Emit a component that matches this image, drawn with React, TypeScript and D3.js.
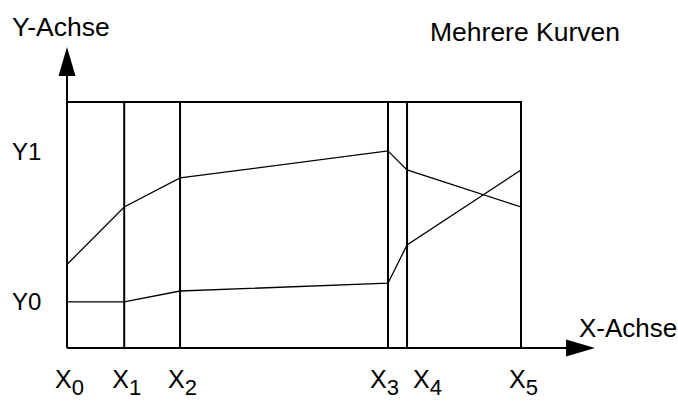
import * as d3 from 'd3';
import React, { useRef, useEffect } from 'react';

// x positions of the vertical lines X0..X5, normalised to the box width
const xStops = [0, 0.126, 0.249, 0.707, 0.749, 1.0];
const xLabels = ['0', '1', '2', '3', '4', '5'];
// y levels: Y0 = 0, Y1 = 1
const yTicks = [0, 1];
const yLabels = ['Y0', 'Y1'];
// the two curves, one value per vertical line
const upperCurve = [0.25, 0.633, 0.827, 1.007, 0.88, 0.633];
const lowerCurve = [0, 0, 0.073, 0.125, 0.38, 0.88];

const title = 'Mehrere Kurven';
const yAxisTitle = 'Y-Achse';
const xAxisTitle = 'X-Achse';

export default function App() {
  const svgRef = useRef<SVGSVGElement>(null);
  const width = 678;
  const height = 401;
  const boxLeft = 67;
  const boxRight = 521;
  const boxTop = 102;
  const boxBottom = 348;
  const font = '"Liberation Sans", Arial, Helvetica, sans-serif';

  useEffect(() => {
    if (!svgRef.current) return;
    const svg = d3.select(svgRef.current);
    svg.selectAll('*').remove();

    const xScale = d3.scaleLinear().domain([0, 1]).range([boxLeft, boxRight]);
    const yScale = d3.scaleLinear().domain([-0.307, 1.333]).range([boxBottom, boxTop]);

    // outer box top and right
    svg.append('path')
      .attr('d', `M${boxLeft},${boxTop}H${boxRight}V${boxBottom}`)
      .attr('fill', 'none')
      .attr('stroke', '#000')
      .attr('stroke-width', 2);

    // vertical lines for X1..X4
    svg.selectAll('line.vline')
      .data(xStops.slice(1, -1))
      .enter()
      .append('line')
      .attr('class', 'vline')
      .attr('x1', d => xScale(d))
      .attr('x2', d => xScale(d))
      .attr('y1', boxTop)
      .attr('y2', boxBottom)
      .attr('stroke', '#000')
      .attr('stroke-width', 2);

    // y axis with arrow
    svg.append('line')
      .attr('x1', boxLeft).attr('x2', boxLeft)
      .attr('y1', boxBottom).attr('y2', 74)
      .attr('stroke', '#000').attr('stroke-width', 2);
    svg.append('path')
      .attr('d', `M${boxLeft},47L${boxLeft - 8.5},76L${boxLeft + 8.5},76Z`)
      .attr('fill', '#000');

    // x axis with arrow
    svg.append('line')
      .attr('x1', boxLeft).attr('x2', 569)
      .attr('y1', boxBottom).attr('y2', boxBottom)
      .attr('stroke', '#000').attr('stroke-width', 2);
    svg.append('path')
      .attr('d', `M595,${boxBottom}L566,${boxBottom - 8.5}L566,${boxBottom + 8.5}Z`)
      .attr('fill', '#000');

    // curves
    const line = d3.line<number>()
      .x((_, i) => xScale(xStops[i]))
      .y(d => yScale(d));

    [upperCurve, lowerCurve].forEach(curve => {
      svg.append('path')
        .attr('d', line(curve))
        .attr('fill', 'none')
        .attr('stroke', '#000')
        .attr('stroke-width', 1.3);
    });

    // y labels
    svg.selectAll('text.ylab')
      .data(yTicks)
      .enter()
      .append('text')
      .attr('class', 'ylab')
      .attr('x', 12)
      .attr('y', d => yScale(d) + 8)
      .attr('font-family', font)
      .attr('font-size', 24)
      .text((_, i) => yLabels[i]);

    // x labels with subscripts (X3 and X4 nudged apart)
    const nudge = [0, 0, 0, -6, 18, 0];
    const xl = svg.selectAll('text.xlab')
      .data(xStops)
      .enter()
      .append('text')
      .attr('class', 'xlab')
      .attr('x', (d, i) => xScale(d) - 12 + nudge[i])
      .attr('y', 388)
      .attr('font-family', font)
      .attr('font-size', 25);
    xl.append('tspan').text('X');
    xl.append('tspan')
      .attr('dy', 7)
      .attr('font-size', 22)
      .text((_, i) => xLabels[i]);

    // titles
    svg.append('text')
      .attr('x', 12).attr('y', 36)
      .attr('font-family', font).attr('font-size', 26.5)
      .text(yAxisTitle);
    svg.append('text')
      .attr('x', 430).attr('y', 41)
      .attr('font-family', font).attr('font-size', 26.5)
      .text(title);
    svg.append('text')
      .attr('x', 579).attr('y', 337)
      .attr('font-family', font).attr('font-size', 26)
      .text(xAxisTitle);
  }, []);

  return (
    <svg
      ref={svgRef}
      width={width}
      height={height}
      style={{ position: 'absolute', left: 0, top: 0, background: '#fff' }}
    />
  );
}
